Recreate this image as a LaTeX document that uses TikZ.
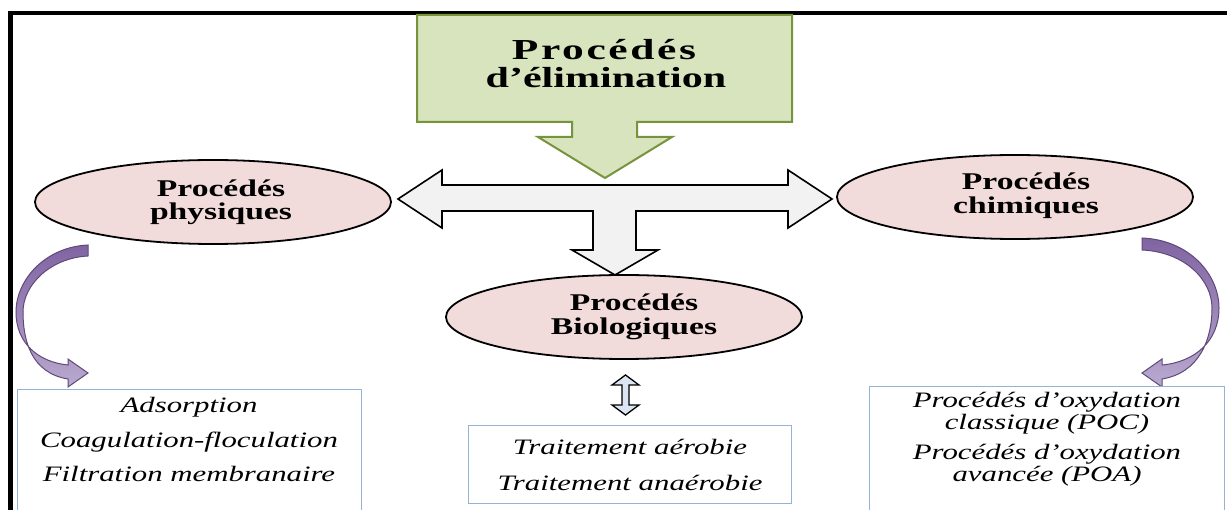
\documentclass[tikz,border=0pt]{standalone}
\usepackage{fontspec}
\setmainfont{Liberation Serif}
\usetikzlibrary{shapes.geometric}
\definecolor{greenf}{HTML}{D7E4BD}
\definecolor{greend}{HTML}{77933C}
\definecolor{pinkf}{HTML}{F2DCDB}
\definecolor{crossf}{HTML}{F2F2F2}
\definecolor{boxblue}{RGB}{149,179,215}
\definecolor{smallf}{HTML}{DCE6F2}
\definecolor{purp}{HTML}{8064A2}
\definecolor{purpl}{HTML}{B9A9CE}
\definecolor{purpd}{HTML}{5F497A}
\newcommand\sx[2][1.4]{\scalebox{#1}[1]{#2}}
\begin{document}
\begin{tikzpicture}[x=1pt,y=-1pt,
  ell/.style={ellipse, draw=black, line width=1.8pt, fill=pinkf, minimum width=356pt, minimum height=84pt, inner sep=0pt},
  etxt/.style={font=\fontsize{24}{22}\selectfont\bfseries, anchor=base, inner sep=0pt},
  ttxt/.style={font=\fontsize{29}{28}\selectfont\bfseries, anchor=base, inner sep=0pt},
  itxt/.style={font=\fontsize{22}{22}\selectfont\itshape, anchor=base, inner sep=0pt},
  listbox/.style={draw=boxblue, line width=1pt, fill=white, inner sep=0pt},
  purparrow/.style={draw=purpd, line width=1pt, top color=purp, bottom color=purpl},
]
\useasboundingbox (0,0) rectangle (1227,510);
% frame
\draw[line width=4.5pt] (10.5,515) -- (10.5,13) -- (1230,13);

% title block arrow
\draw[draw=greend, line width=2pt, fill=greenf, line join=miter]
  (417,15) -- (792,15) -- (792,122) -- (637,122) -- (637,137) -- (672,137) -- (605,178)
  -- (538,137) -- (572,137) -- (572,122) -- (417,122) -- cycle;
\node[ttxt] (t1) at (604,60) {\sx[1.5]{\addfontfeature{LetterSpace=6}Procédés}};
\node[ttxt] (t2) at (606,88) {\sx[1.45]{d’élimination}};

% cross arrow
\draw[black, line width=1.6pt, fill=crossf, line join=miter]
  (398,199) -- (442,170) -- (442,185) -- (788,185) -- (788,170) -- (832,199) -- (788,228)
  -- (788,211) -- (636,211) -- (636,250) -- (658,250) -- (615,275) -- (572,250)
  -- (593,250) -- (593,211) -- (442,211) -- (442,228) -- cycle;

% ellipses
\node[ell] (phys) at (213,202) {};
\node[etxt] (phys1) at (221,197) {\sx{Procédés}};
\node[etxt] (phys2) at (221,220) {\sx{physiques}};

\node[ell] (chim) at (1015,197) {};
\node[etxt] (chim1) at (1026,190) {\sx{Procédés}};
\node[etxt] (chim2) at (1026,214) {\sx{chimiques}};

\node[ell] (bio) at (624,317) {};
\node[etxt] (bio1) at (634,311) {\sx{Procédés}};
\node[etxt] (bio2) at (634,335) {\sx{Biologiques}};

% small double arrow
\draw[black, line width=1.3pt, fill=smallf, line join=miter]
  (625.5,375) -- (639,385) -- (629,385) -- (629,405) -- (639,405) -- (625.5,415)
  -- (612,405) -- (622,405) -- (622,385) -- (612,385) -- cycle;

% curved purple arrows
\path[purparrow]
  (88,245) .. controls (45,247) and (16,280) .. (16,312)
  .. controls (16,343) and (38,362) .. (68,365)
  -- (68,359) -- (88,373) -- (68,387) -- (68,379)
  .. controls (31,373) and (23,340) .. (23,312)
  .. controls (23,285) and (50,258) .. (88,256) -- cycle;
\path[purparrow]
  (1142,238) .. controls (1190,240) and (1219,275) .. (1219,308)
  .. controls (1219,341) and (1195,362) .. (1162,365)
  -- (1162,359) -- (1142,373) -- (1162,387) -- (1162,379)
  .. controls (1199,373) and (1212,340) .. (1212,308)
  .. controls (1212,280) and (1185,252) .. (1142,250) -- cycle;

% boxes
\node[listbox, minimum width=344pt, minimum height=130pt] (lbox) at (189,455) {};
\node[itxt] (l1) at (189,413) {\sx{Adsorption}};
\node[itxt] (l2) at (189,448) {\sx{Coagulation-floculation}};
\node[itxt] (l3) at (189,482) {\sx{Filtration membranaire}};

\node[listbox, minimum width=323pt, minimum height=78pt] (mbox) at (629.5,465) {};
\node[itxt] (m1) at (630,455) {\sx{Traitement aérobie}};
\node[itxt] (m2) at (630,490) {\sx{Traitement anaérobie}};

\node[listbox, minimum width=355pt, minimum height=136pt] (rbox) at (1046.5,455) {};
\node[itxt] (r1) at (1047,408) {\sx{Procédés d’oxydation}};
\node[itxt] (r2) at (1047,430) {\sx{classique (POC)}};
\node[itxt] (r3) at (1047,460) {\sx{Procédés d’oxydation}};
\node[itxt] (r4) at (1047,482) {\sx{avancée (POA)}};
\end{tikzpicture}
\end{document}
